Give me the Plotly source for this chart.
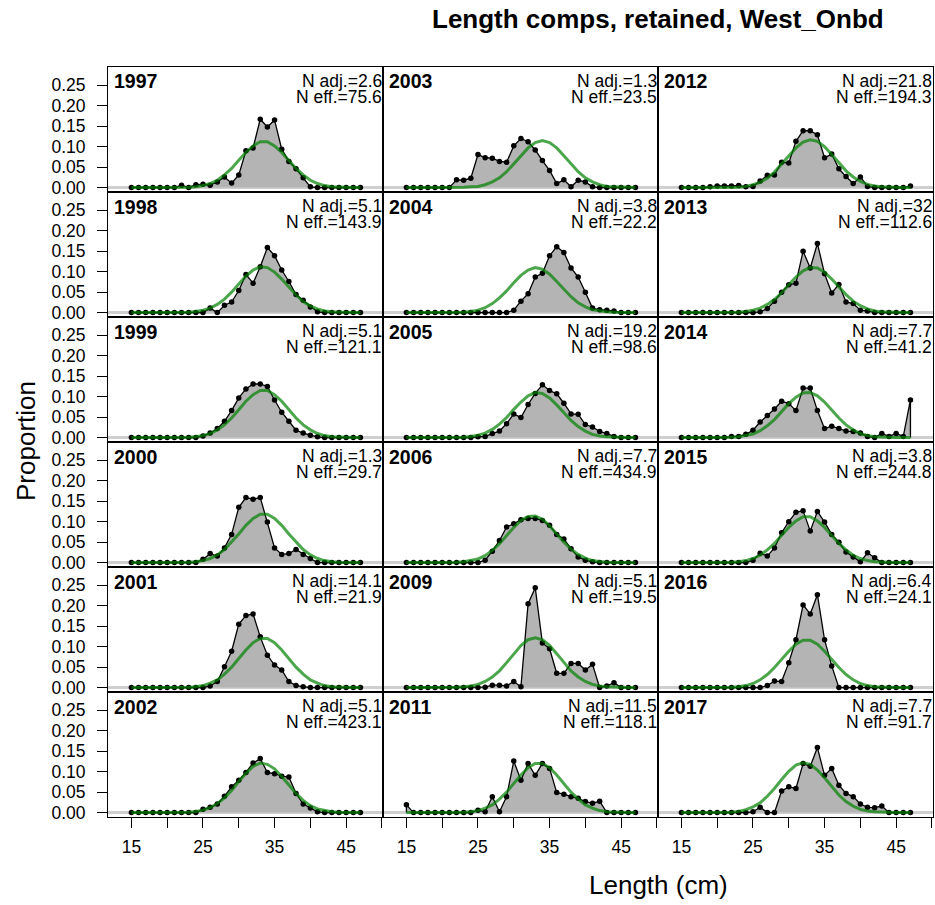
import plotly.graph_objects as go
from plotly.subplots import make_subplots

# ---------------- data ----------------
bins = list(range(15, 48))  # length bins (cm)

years = ["1997", "1998", "1999", "2000", "2001", "2002",
         "2003", "2004", "2005", "2006", "2009", "2011",
         "2012", "2013", "2014", "2015", "2016", "2017"]
n_adj = ["2.6", "5.1", "5.1", "1.3", "14.1", "5.1",
         "1.3", "3.8", "19.2", "7.7", "5.1", "11.5",
         "21.8", "32", "7.7", "3.8", "6.4", "7.7"]
n_eff = ["75.6", "143.9", "121.1", "29.7", "21.9", "423.1",
         "23.5", "22.2", "98.6", "434.9", "19.5", "118.1",
         "194.3", "112.6", "41.2", "244.8", "24.1", "91.7"]

# observed proportions (bins 15..47)
obs_1997 = [0, 0, 0, 0, 0, 0, 0, 0.006, 0, 0.007, 0.008, 0.006, 0.014, 0.026, 0.011, 0.031, 0.090, 0.097, 0.167, 0.148, 0.165, 0.094, 0.064, 0.046, 0.024, 0.002, 0, 0, 0, 0, 0, 0, 0]
obs_1998 = [0, 0, 0, 0, 0, 0, 0, 0, 0, 0, 0, 0.011, 0, 0.018, 0.026, 0.054, 0.093, 0.072, 0.112, 0.159, 0.139, 0.104, 0.076, 0.044, 0.030, 0.014, 0.002, 0, 0, 0, 0, 0, 0]
obs_1999 = [0, 0, 0, 0, 0, 0, 0, 0, 0, 0, 0.004, 0.011, 0.022, 0.040, 0.066, 0.097, 0.119, 0.131, 0.131, 0.125, 0.092, 0.062, 0.040, 0.018, 0.011, 0.006, 0.002, 0, 0, 0, 0, 0, 0]
obs_2000 = [0, 0, 0, 0, 0, 0, 0, 0, 0, 0, 0.008, 0.022, 0.016, 0.036, 0.069, 0.135, 0.159, 0.155, 0.159, 0.099, 0.036, 0.020, 0.022, 0.032, 0.020, 0.010, 0, 0, 0, 0, 0, 0, 0]
obs_2001 = [0, 0, 0, 0, 0, 0, 0, 0, 0, 0, 0, 0.004, 0.015, 0.051, 0.089, 0.155, 0.176, 0.180, 0.124, 0.079, 0.055, 0.043, 0.015, 0.005, 0.002, 0, 0, 0, 0, 0, 0, 0, 0]
obs_2002 = [0, 0, 0, 0, 0, 0, 0, 0, 0, 0, 0.008, 0.013, 0.021, 0.040, 0.063, 0.079, 0.098, 0.121, 0.132, 0.098, 0.095, 0.089, 0.087, 0.047, 0.021, 0.011, 0.002, 0, 0, 0, 0, 0, 0]
obs_2003 = [0, 0, 0, 0, 0, 0, 0, 0.019, 0.018, 0.023, 0.081, 0.073, 0.072, 0.064, 0.062, 0.102, 0.120, 0.112, 0.092, 0.066, 0.042, 0.010, 0.019, 0.002, 0.018, 0.014, 0.002, 0, 0, 0, 0, 0, 0]
obs_2004 = [0, 0, 0, 0, 0, 0, 0, 0, 0, 0, 0, 0, 0, 0, 0, 0.006, 0.028, 0.046, 0.087, 0.096, 0.139, 0.161, 0.147, 0.109, 0.087, 0.050, 0.011, 0.007, 0.006, 0.004, 0, 0, 0]
obs_2005 = [0, 0, 0, 0, 0, 0, 0, 0, 0, 0, 0.002, 0.003, 0.010, 0.016, 0.034, 0.058, 0.049, 0.081, 0.108, 0.129, 0.115, 0.107, 0.084, 0.058, 0.057, 0.032, 0.026, 0.015, 0.010, 0.003, 0, 0, 0]
obs_2006 = [0, 0, 0, 0, 0, 0, 0, 0, 0, 0, 0, 0.006, 0.028, 0.054, 0.087, 0.095, 0.105, 0.108, 0.108, 0.103, 0.091, 0.069, 0.058, 0.034, 0.014, 0.006, 0.002, 0, 0, 0, 0, 0, 0]
obs_2009 = [0, 0, 0, 0, 0, 0, 0, 0, 0, 0, 0, 0.001, 0.006, 0.006, 0.004, 0.015, 0.002, 0.205, 0.244, 0.109, 0.095, 0.035, 0.035, 0.059, 0.059, 0.043, 0.057, 0, 0.004, 0.012, 0, 0, 0]
obs_2011 = [0.019, 0, 0, 0, 0, 0, 0, 0, 0, 0, 0.006, 0.002, 0.039, 0.002, 0.039, 0.126, 0.079, 0.120, 0.091, 0.120, 0.108, 0.049, 0.045, 0.039, 0.035, 0.027, 0.023, 0.028, 0, 0, 0, 0, 0]
obs_2012 = [0, 0, 0, 0, 0.002, 0.004, 0.004, 0.004, 0.005, 0.002, 0.003, 0.016, 0.030, 0.031, 0.062, 0.060, 0.113, 0.139, 0.139, 0.129, 0.073, 0.082, 0.046, 0.027, 0.010, 0.026, 0.003, 0, 0, 0, 0, 0, 0.004]
obs_2013 = [0, 0, 0, 0, 0, 0, 0, 0, 0, 0, 0, 0.002, 0.010, 0.028, 0.050, 0.068, 0.072, 0.150, 0.109, 0.169, 0.095, 0.048, 0.069, 0.026, 0.022, 0.006, 0.004, 0, 0, 0, 0, 0, 0]
obs_2014 = [0, 0, 0, 0, 0, 0, 0, 0.003, 0.003, 0.008, 0.018, 0.038, 0.054, 0.070, 0.089, 0.083, 0.066, 0.121, 0.121, 0.066, 0.022, 0.028, 0.022, 0.016, 0.015, 0.011, 0.003, 0, 0.010, 0.003, 0.010, 0.003, 0.092]
obs_2015 = [0, 0, 0, 0, 0, 0, 0, 0, 0, 0, 0.006, 0.023, 0.016, 0.036, 0.073, 0.100, 0.123, 0.127, 0.077, 0.125, 0.099, 0.069, 0.050, 0.026, 0.014, 0.002, 0.024, 0.012, 0, 0, 0, 0, 0]
obs_2016 = [0, 0, 0, 0, 0, 0, 0, 0, 0, 0, 0, 0, 0.005, 0.016, 0.015, 0.061, 0.117, 0.202, 0.180, 0.227, 0.117, 0.053, 0, 0, 0, 0, 0, 0, 0, 0, 0, 0, 0]
obs_2017 = [0, 0, 0, 0, 0, 0, 0, 0, 0, 0, 0.002, 0.013, 0, 0, 0.053, 0.063, 0.059, 0.120, 0.113, 0.159, 0.091, 0.108, 0.067, 0.047, 0.039, 0.021, 0.013, 0.012, 0.016, 0, 0, 0, 0]

# expected (fitted) proportions (bins 15..47)
exp_1997 = [0, 0, 0, 0, 0, 0, 0, 0, 0.001, 0.002, 0.005, 0.010, 0.018, 0.031, 0.047, 0.067, 0.086, 0.102, 0.112, 0.112, 0.102, 0.086, 0.067, 0.047, 0.031, 0.018, 0.010, 0.005, 0.002, 0.001, 0, 0, 0]
exp_1998 = [0, 0, 0, 0, 0, 0, 0, 0, 0.001, 0.003, 0.006, 0.011, 0.020, 0.033, 0.050, 0.070, 0.089, 0.104, 0.112, 0.110, 0.099, 0.082, 0.062, 0.043, 0.027, 0.016, 0.009, 0.004, 0.002, 0.001, 0, 0, 0]
exp_1999 = [0, 0, 0, 0, 0, 0, 0, 0, 0.001, 0.002, 0.005, 0.010, 0.019, 0.031, 0.048, 0.068, 0.089, 0.105, 0.115, 0.115, 0.105, 0.089, 0.068, 0.048, 0.031, 0.019, 0.010, 0.005, 0.002, 0.001, 0, 0, 0]
exp_2000 = [0, 0, 0, 0, 0, 0, 0, 0, 0.001, 0.002, 0.005, 0.010, 0.019, 0.032, 0.050, 0.070, 0.091, 0.108, 0.118, 0.118, 0.108, 0.091, 0.070, 0.050, 0.032, 0.019, 0.010, 0.005, 0.002, 0.001, 0, 0, 0]
exp_2001 = [0, 0, 0, 0, 0, 0, 0, 0, 0.001, 0.002, 0.005, 0.011, 0.019, 0.033, 0.050, 0.071, 0.092, 0.110, 0.120, 0.120, 0.110, 0.092, 0.071, 0.050, 0.033, 0.019, 0.011, 0.005, 0.002, 0.001, 0, 0, 0]
exp_2002 = [0, 0, 0, 0, 0, 0, 0, 0, 0.001, 0.003, 0.006, 0.012, 0.022, 0.036, 0.054, 0.076, 0.096, 0.113, 0.121, 0.118, 0.107, 0.088, 0.067, 0.047, 0.030, 0.017, 0.009, 0.005, 0.002, 0.001, 0, 0, 0]
exp_2003 = [0, 0, 0, 0, 0, 0, 0, 0, 0.001, 0.002, 0.003, 0.007, 0.014, 0.024, 0.039, 0.058, 0.078, 0.097, 0.110, 0.115, 0.110, 0.097, 0.078, 0.058, 0.039, 0.024, 0.014, 0.007, 0.003, 0.002, 0.001, 0, 0]
exp_2004 = [0, 0, 0, 0, 0, 0, 0, 0, 0.001, 0.003, 0.006, 0.012, 0.022, 0.036, 0.053, 0.073, 0.091, 0.104, 0.110, 0.106, 0.094, 0.076, 0.057, 0.039, 0.024, 0.014, 0.007, 0.004, 0.002, 0.001, 0, 0, 0]
exp_2005 = [0, 0, 0, 0, 0, 0, 0, 0, 0.001, 0.003, 0.006, 0.011, 0.020, 0.033, 0.049, 0.069, 0.087, 0.102, 0.110, 0.108, 0.097, 0.080, 0.061, 0.042, 0.027, 0.016, 0.008, 0.004, 0.002, 0.001, 0, 0, 0]
exp_2006 = [0, 0, 0, 0, 0, 0, 0, 0.001, 0.002, 0.005, 0.009, 0.017, 0.030, 0.046, 0.066, 0.086, 0.103, 0.113, 0.114, 0.106, 0.090, 0.070, 0.050, 0.033, 0.020, 0.011, 0.005, 0.003, 0.001, 0, 0, 0, 0]
exp_2009 = [0, 0, 0, 0, 0, 0, 0, 0.001, 0.002, 0.004, 0.008, 0.015, 0.026, 0.041, 0.061, 0.083, 0.103, 0.117, 0.122, 0.117, 0.103, 0.083, 0.061, 0.041, 0.026, 0.015, 0.008, 0.004, 0.002, 0.001, 0, 0, 0]
exp_2011 = [0, 0, 0, 0, 0, 0, 0, 0, 0.001, 0.002, 0.005, 0.011, 0.019, 0.033, 0.050, 0.071, 0.092, 0.110, 0.120, 0.120, 0.110, 0.092, 0.071, 0.050, 0.033, 0.019, 0.011, 0.005, 0.002, 0.001, 0, 0, 0]
exp_2012 = [0, 0, 0, 0, 0, 0, 0, 0, 0.001, 0.003, 0.007, 0.013, 0.023, 0.038, 0.057, 0.077, 0.097, 0.111, 0.117, 0.113, 0.100, 0.081, 0.061, 0.041, 0.026, 0.015, 0.008, 0.004, 0.002, 0.001, 0, 0, 0]
exp_2013 = [0, 0, 0, 0, 0, 0, 0, 0, 0.001, 0.003, 0.006, 0.011, 0.020, 0.032, 0.048, 0.068, 0.087, 0.102, 0.110, 0.109, 0.099, 0.082, 0.063, 0.044, 0.028, 0.017, 0.009, 0.004, 0.002, 0.001, 0, 0, 0]
exp_2014 = [0, 0, 0, 0, 0, 0, 0, 0.001, 0.002, 0.005, 0.009, 0.017, 0.029, 0.044, 0.063, 0.083, 0.099, 0.109, 0.110, 0.102, 0.087, 0.067, 0.048, 0.031, 0.019, 0.010, 0.005, 0.002, 0.001, 0, 0, 0, 0]
exp_2015 = [0, 0, 0, 0, 0, 0, 0, 0.001, 0.002, 0.005, 0.010, 0.018, 0.031, 0.047, 0.067, 0.086, 0.102, 0.112, 0.112, 0.102, 0.086, 0.067, 0.047, 0.031, 0.018, 0.010, 0.005, 0.002, 0.001, 0, 0, 0, 0]
exp_2016 = [0, 0, 0, 0, 0, 0, 0, 0.001, 0.002, 0.005, 0.010, 0.019, 0.032, 0.049, 0.069, 0.089, 0.106, 0.116, 0.116, 0.106, 0.089, 0.069, 0.049, 0.032, 0.019, 0.010, 0.005, 0.002, 0.001, 0, 0, 0, 0]
exp_2017 = [0, 0, 0, 0, 0, 0, 0.001, 0.001, 0.003, 0.007, 0.014, 0.024, 0.040, 0.059, 0.081, 0.101, 0.116, 0.122, 0.118, 0.104, 0.085, 0.063, 0.043, 0.027, 0.016, 0.008, 0.004, 0.002, 0.001, 0, 0, 0, 0]

y_ticks = [0, 0.05, 0.10, 0.15, 0.20, 0.25]
y_tick_labels = ["0.00", "0.05", "0.10", "0.15", "0.20", "0.25"]
x_ticks = [15, 20, 25, 30, 35, 40, 45, 50]
x_tick_labels = ["15", "", "25", "", "35", "", "45", ""]

observed = {y: globals()["obs_" + y] for y in years}
expected = {y: globals()["exp_" + y] for y in years}
for y in years:
    assert len(observed[y]) == len(bins), y
    assert len(expected[y]) == len(bins), y

# ---------------- figure ----------------
W, H = 935, 905
L, R, T, B = 108, 2, 67, 88
PW, PH = W - L - R, H - T - B
FONT = "Liberation Sans, Arial, sans-serif"
NROW, NCOL = 6, 3

fig = make_subplots(rows=NROW, cols=NCOL, horizontal_spacing=0, vertical_spacing=0)


def px_x(px):
    return (px - L) / PW


def px_y(py):
    return (T + PH - py) / PH


annotations = []
for idx, yr in enumerate(years):
    r = idx % NROW + 1
    c = idx // NROW + 1
    ob = observed[yr]
    ex = expected[yr]
    fig.add_trace(go.Scatter(x=[bins[0]] + bins + [bins[-1]], y=[0] + ob + [0],
                             mode="lines", fill="toself", fillcolor="#b4b4b4",
                             line=dict(color="black", width=1.3),
                             hoverinfo="skip", showlegend=False), row=r, col=c)
    fig.add_trace(go.Scatter(x=bins, y=ob, mode="markers",
                             marker=dict(color="black", size=5.5),
                             showlegend=False), row=r, col=c)
    fig.add_trace(go.Scatter(x=bins, y=ex, mode="lines",
                             line=dict(color="rgba(0,128,0,0.7)", width=3),
                             showlegend=False), row=r, col=c)

    n = (r - 1) * NCOL + c
    xname = "x" if n == 1 else f"x{n}"
    yname = "y" if n == 1 else f"y{n}"
    fig.add_shape(type="line", xref=f"{xname} domain", yref=yname,
                  x0=0, x1=1, y0=0, y1=0, layer="below",
                  line=dict(color="#cfcfcf", width=3))

    left = L + (c - 1) * PW / NCOL
    right = L + c * PW / NCOL
    top = T + (r - 1) * PH / NROW
    annotations.append(dict(x=px_x(left + 4), y=px_y(top + 14.5), xref="paper", yref="paper",
                            text=f"<b>{yr}</b>", showarrow=False, xanchor="left", yanchor="middle",
                            font=dict(size=19.5, family=FONT, color="black")))
    annotations.append(dict(x=px_x(right + 1), y=px_y(top + 14), xref="paper", yref="paper",
                            text=f"N adj.={n_adj[idx]}", showarrow=False, xanchor="right", yanchor="middle",
                            font=dict(size=17.5, family=FONT, color="black")))
    annotations.append(dict(x=px_x(right + 1), y=px_y(top + 30), xref="paper", yref="paper",
                            text=f"N eff.={n_eff[idx]}", showarrow=False, xanchor="right", yanchor="middle",
                            font=dict(size=17.5, family=FONT, color="black")))

    fig.update_xaxes(range=[11.73, 50.15], showline=True, mirror=True, linecolor="black",
                     linewidth=1, showgrid=False, zeroline=False,
                     ticks="outside" if r == NROW else "", ticklen=10, tickcolor="black",
                     tickvals=x_ticks, ticktext=x_tick_labels,
                     showticklabels=(r == NROW), ticklabelstandoff=4,
                     tickfont=dict(size=17.5, family=FONT, color="black"),
                     row=r, col=c)
    fig.update_yaxes(range=[-0.0107, 0.2947], showline=True, mirror=True, linecolor="black",
                     linewidth=1, showgrid=False, zeroline=False,
                     ticks="outside" if c == 1 else "", ticklen=10, tickcolor="black",
                     tickvals=y_ticks, ticktext=y_tick_labels,
                     showticklabels=(c == 1), ticklabelstandoff=8,
                     tickfont=dict(size=17.5, family=FONT, color="black"),
                     row=r, col=c)

annotations.append(dict(x=px_x(658), y=px_y(19), xref="paper", yref="paper",
                        text="<b>Length comps, retained, West_Onbd</b>", showarrow=False,
                        xanchor="center", yanchor="middle",
                        font=dict(size=26, family=FONT, color="black")))
annotations.append(dict(x=px_x(658), y=px_y(885), xref="paper", yref="paper",
                        text="Length (cm)", showarrow=False, xanchor="center", yanchor="middle",
                        font=dict(size=26, family=FONT, color="black")))
annotations.append(dict(x=px_x(26), y=px_y(441), xref="paper", yref="paper",
                        text="Proportion", showarrow=False, textangle=-90,
                        xanchor="center", yanchor="middle",
                        font=dict(size=26, family=FONT, color="black")))

fig.update_layout(width=W, height=H, margin=dict(l=L, r=R, t=T, b=B, autoexpand=False),
                  paper_bgcolor="white", plot_bgcolor="white",
                  annotations=annotations, showlegend=False,
                  font=dict(family=FONT, color="black"))

fig.write_html("out.html")
